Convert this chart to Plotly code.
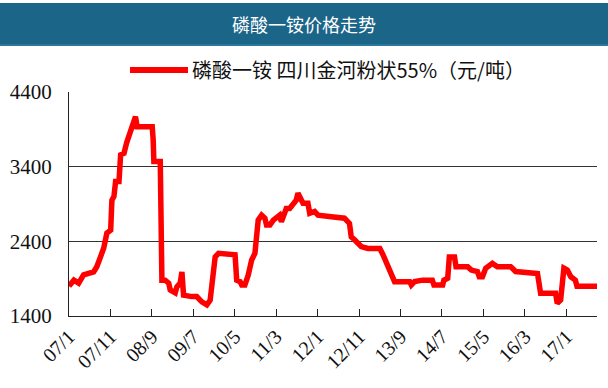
import plotly.graph_objects as go

# ---- data ----
dates = [
    "2007-01-01", "2007-02-06", "2007-03-13", "2007-04-18", "2007-07-01", "2007-07-24",
    "2007-08-20", "2007-09-13", "2007-10-06", "2007-11-03", "2007-11-12", "2007-11-27",
    "2007-12-09", "2008-01-03", "2008-01-15", "2008-02-09", "2008-02-28", "2008-03-27",
    "2008-04-21", "2008-05-03", "2008-05-15", "2008-09-03", "2008-09-10", "2008-09-15",
    "2008-11-01", "2008-11-13", "2008-12-07", "2009-01-02", "2009-01-13", "2009-02-19",
    "2009-03-03", "2009-03-27", "2009-04-09", "2009-04-21", "2009-06-20", "2009-07-27",
    "2009-09-02", "2009-10-09", "2009-11-02", "2009-11-15", "2009-12-09", "2010-01-03",
    "2010-05-04", "2010-05-16", "2010-06-10", "2010-06-22", "2010-07-15", "2010-08-09",
    "2010-09-03", "2010-09-27", "2010-10-09", "2010-10-21", "2010-11-15", "2010-12-09",
    "2010-12-21", "2011-01-15", "2011-02-09", "2011-03-03", "2011-03-27", "2011-04-09",
    "2011-05-03", "2011-05-15", "2011-06-09", "2011-07-03", "2011-07-27", "2011-08-09",
    "2011-09-03", "2011-09-15", "2011-10-21", "2011-11-03", "2011-12-09", "2012-01-03",
    "2012-04-09", "2012-07-15", "2012-08-21", "2012-09-03", "2012-09-27", "2012-10-21",
    "2012-11-15", "2013-01-03", "2013-04-01", "2013-04-24", "2013-06-01", "2013-07-06",
    "2013-07-18", "2013-11-06", "2013-11-18", "2013-12-12", "2014-02-09", "2014-04-21",
    "2014-05-03", "2014-07-06", "2014-07-15", "2014-08-12", "2014-08-24", "2014-10-01",
    "2014-10-12", "2015-01-06", "2015-02-01", "2015-03-18", "2015-04-01", "2015-04-24",
    "2015-05-18", "2015-07-06", "2015-08-12", "2015-11-18", "2015-12-24", "2016-06-01",
    "2016-06-24", "2016-10-12", "2016-10-24", "2016-11-18", "2016-12-12", "2017-01-06",
    "2017-02-01", "2017-03-06", "2017-03-18", "2017-08-12",
]
prices = [
    1800, 1880, 1840, 1950, 1990, 2060,
    2190, 2310, 2510, 2550, 2950, 3000,
    3200, 3200, 3560, 3580, 3720, 3890,
    4020, 4070, 3935, 3935, 3760, 3470,
    3470, 1880, 1880, 1840, 1750, 1710,
    1790, 1840, 1990, 1680, 1660, 1660,
    1590, 1550, 1610, 1790, 2190, 2240,
    2220, 1880, 1860, 1815, 1815, 1950,
    2150, 2240, 2460, 2685, 2750, 2710,
    2620, 2620, 2685, 2710, 2750, 2660,
    2775, 2840, 2840, 2910, 2950, 3045,
    2950, 2910, 2910, 2775, 2800, 2750,
    2730, 2710, 2640, 2460, 2420, 2370,
    2330, 2305, 2305, 2220, 2060, 1925,
    1860, 1860, 1815, 1860, 1880, 1880,
    1815, 1815, 1880, 1905, 2190, 2190,
    2060, 2060, 2015, 1995, 1925, 1925,
    2040, 2105, 2060, 2060, 1995, 1970,
    1705, 1705, 1570, 1615, 2040, 2015,
    1925, 1880, 1800, 1800,
]
tick_dates = ["2007-01-01", "2007-11-01", "2008-09-01", "2009-07-01", "2010-05-01",
              "2011-03-01", "2012-01-01", "2012-11-01", "2013-09-01", "2014-07-01",
              "2015-05-01", "2016-03-01", "2017-01-01"]
tick_labels = ["07/1", "07/11", "08/9", "09/7", "10/5", "11/3", "12/1", "12/11",
               "13/9", "14/7", "15/5", "16/3", "17/1"]
y_ticks = [1400, 2400, 3400, 4400]
series_name = "磷酸一铵 四川金河粉状55%（元/吨）"
chart_title = "磷酸一铵价格走势"

W, H = 608, 388
L, R, T, B = 69, 11, 92, 72
PW, PH = W - L - R, H - T - B


def px(x):
    return (x - L) / PW


def py(y):
    return 1 + (T - y) / PH


fig = go.Figure()
fig.add_trace(go.Scatter(
    x=dates, y=prices, mode="lines", name=series_name,
    line=dict(color="#ff0000", width=5.5), showlegend=False,
))

serif = "Liberation Serif, Times New Roman, serif"
cjk = "Noto Sans CJK SC, sans-serif"

fig.update_layout(
    width=W, height=H,
    margin=dict(l=L, r=R, t=T, b=B, autoexpand=False),
    paper_bgcolor="white", plot_bgcolor="white",
    xaxis=dict(
        type="date", range=["2007-01-01", "2017-08-12"],
        tickmode="array", tickvals=tick_dates, ticktext=tick_labels,
        tickangle=-45, ticks="inside", ticklen=7, tickcolor="#222",
        showline=True, linecolor="#222", linewidth=1,
        showgrid=False, zeroline=False, automargin=False,
        tickfont=dict(family=serif, size=20, color="#111"),
    ),
    yaxis=dict(
        range=[1400, 4400], tickmode="array", tickvals=y_ticks,
        showline=True, linecolor="#222", linewidth=1,
        showgrid=True, gridcolor="#333", gridwidth=1, zeroline=False,
        ticks="", ticklabelstandoff=12, automargin=False,
        tickfont=dict(family=serif, size=21, color="#111"),
    ),
    shapes=[
        dict(type="rect", xref="paper", yref="paper",
             x0=px(0), x1=px(W), y0=py(46), y1=py(3),
             fillcolor="#1b6588", line=dict(width=0), layer="below"),
        dict(type="line", xref="paper", yref="paper",
             x0=px(0), x1=px(W), y0=py(45), y1=py(45),
             line=dict(color="#2f7fa3", width=1.5)),
        dict(type="line", xref="paper", yref="paper",
             x0=px(130), x1=px(188), y0=py(70), y1=py(70),
             line=dict(color="#ff0000", width=6)),
    ],
    annotations=[
        dict(text=chart_title, xref="paper", yref="paper", x=px(W / 2), y=py(24),
             xanchor="center", yanchor="middle", showarrow=False,
             font=dict(family=cjk, size=18, color="white")),
        dict(text=series_name, xref="paper", yref="paper", x=px(190), y=py(70),
             xanchor="left", yanchor="middle", showarrow=False,
             font=dict(family=cjk, size=20, color="#111")),
    ],
)

fig.write_html(
    "out.html",
    config={"displayModeBar": False},
    post_script="document.body.style.margin='0';document.body.style.padding='0';",
)
